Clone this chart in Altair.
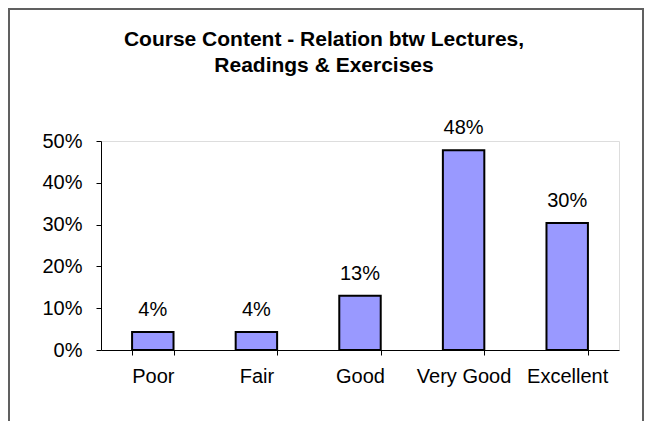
import altair as alt
import pandas as pd

# ---- data ----
categories = ["Poor", "Fair", "Good", "Very Good", "Excellent"]
shares = [0.043, 0.043, 0.130, 0.478, 0.304]
y_ticks = [0, 0.1, 0.2, 0.3, 0.4, 0.5]
title_lines = ["Course Content - Relation btw Lectures,", "Readings & Exercises"]

df = pd.DataFrame({"rating": categories, "share": shares})

FONT = "Liberation Sans"
LABEL_SIZE = 20
W, H = 518, 209

x_enc = alt.X(
    "rating:N",
    sort=categories,
    title=None,
    scale=alt.Scale(paddingInner=0.6, paddingOuter=0.3),
    axis=alt.Axis(
        labelAngle=0,
        tickBand="extent",
        tickSize=5,
        tickColor="black",
        domainColor="black",
        labelFont=FONT,
        labelFontSize=LABEL_SIZE,
        labelColor="black",
        labelPadding=11,
        grid=False,
    ),
)
y_enc = alt.Y(
    "share:Q",
    title=None,
    scale=alt.Scale(domain=[0, 0.5], nice=False),
    axis=alt.Axis(
        values=y_ticks,
        format=".0%",
        tickSize=5,
        tickColor="black",
        domainColor="black",
        labelFont=FONT,
        labelFontSize=LABEL_SIZE,
        labelColor="black",
        labelPadding=14,
        grid=False,
    ),
)

frame = alt.Chart(alt.Data(values=[{"k": 1}])).mark_rect(
    fillOpacity=0, stroke="#606060", strokeWidth=2
).encode(
    x=alt.value(-92), x2=alt.value(542), y=alt.value(-132), y2=alt.value(291)
)

bars = alt.Chart(df).mark_bar(
    color="#9999FF", stroke="black", strokeWidth=2
).encode(x=x_enc, y=y_enc)

labels = alt.Chart(df).mark_text(
    font=FONT, fontSize=LABEL_SIZE, color="black", baseline="alphabetic", dy=-16
).encode(
    x=alt.X("rating:N", sort=categories),
    y=alt.Y("share:Q"),
    text=alt.Text("share:Q", format=".0%"),
)

chart = alt.layer(frame, bars, labels).properties(
    width=W,
    height=H,
    title=alt.TitleParams(
        text=title_lines,
        font=FONT,
        fontSize=21,
        fontWeight="bold",
        color="black",
        anchor="middle",
        lineHeight=26,
        dx=-36,
        dy=72,
    ),
    padding={"left": 93, "top": 133, "right": 25, "bottom": 71},
    autosize=alt.AutoSizeParams(type="none"),
).configure_view(stroke=None).configure(background="white")

chart.save("out.html", embed_options={"renderer": "svg", "actions": False})
